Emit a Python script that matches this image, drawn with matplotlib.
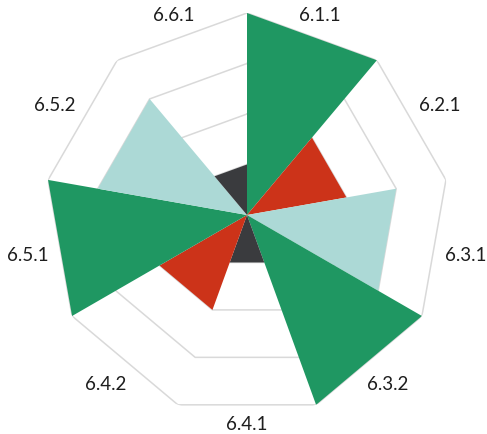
import numpy as np
import matplotlib
matplotlib.use('Agg')
import matplotlib.pyplot as plt

categories = ['6.1.1', '6.2.1', '6.3.1', '6.3.2', '6.4.1', '6.4.2', '6.5.1', '6.5.2', '6.6.1']
values = [4, 2, 3, 4, 1, 2, 4, 3, 1]
colors = ['#1f9762', '#cc3319', '#acd9d6', '#1f9762', '#3a3b3e',
          '#cc3319', '#1f9762', '#acd9d6', '#3a3b3e']
ring_levels = [1, 2, 3, 4]

plt.rcParams['font.family'] = ['Lato', 'DejaVu Sans']

fig = plt.figure(figsize=(4.87, 4.34), dpi=100)
ax = fig.add_axes([45 / 487, 17 / 434, 404 / 487, 404 / 434], projection='polar')
ax.set_theta_zero_location('N')
ax.set_theta_direction(-1)
ax.set_ylim(0, 4)
ax.grid(False)
ax.spines['polar'].set_visible(False)
ax.set_xticks([])
ax.set_yticks([])

n = len(categories)
step = 2 * np.pi / n
edges = np.arange(n + 1) * step

# nonagon rings
for lvl in ring_levels:
    ax.plot(edges, [lvl] * (n + 1), color='#d9d9d9', lw=1.1, zorder=1)

# triangular wedges
for i, (v, c) in enumerate(zip(values, colors)):
    ax.fill([0, edges[i], edges[i + 1]], [0, v, v], color=c, lw=0, zorder=2)

# labels: keep a fixed gap between the text box and the outer ring
px_per_unit = 202 / 4
for i, lab in enumerate(categories):
    t = edges[i] + step / 2
    d = 200.5 + abs(np.sin(t)) * 21 + abs(np.cos(t)) * 7
    ax.text(t, d / px_per_unit, lab, ha='center', va='center_baseline',
            fontsize=13.5, color='#1e1e1e', clip_on=False)

fig.savefig('out.png', dpi=100)
